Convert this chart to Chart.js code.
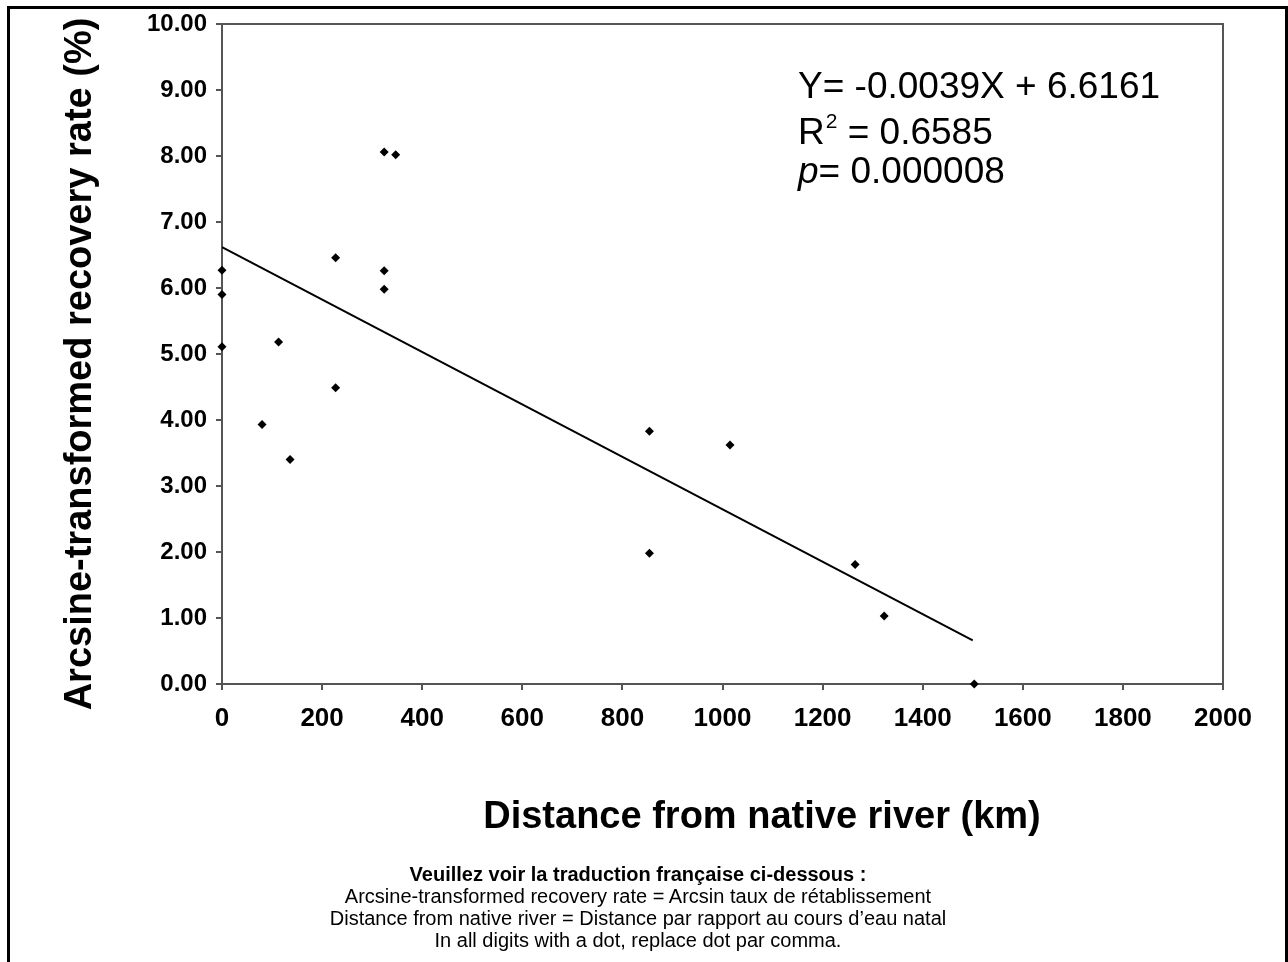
<!DOCTYPE html>
<html>
<head>
<meta charset="utf-8">
<script src="https://cdn.jsdelivr.net/npm/chart.js@4/dist/chart.umd.min.js"></script>
<style>
  body { margin: 0; background: #fff; }
  #wrap { position: relative; width: 1288px; height: 962px; }
  #notes {
    position: absolute; left: 0; width: 1276px; top: 863px;
    text-align: center; font-family: "Liberation Sans", Arial, sans-serif;
    font-size: 20px; line-height: 22px; color: #000;
  }
  #notes b { font-weight: bold; }
</style>
</head>
<body>
<div id="wrap">
  <canvas id="chart" width="1288" height="962"></canvas>
  <div id="notes">
    <b>Veuillez voir la traduction française ci-dessous :</b><br>
    Arcsine-transformed recovery rate = Arcsin taux de rétablissement<br>
    Distance from native river = Distance par rapport au cours d’eau natal<br>
    In all digits with a dot, replace dot par comma.
  </div>
</div>
<script>
// 値は図から読み取ったもの
const distanceKm   = [0, 0, 0, 80, 113, 136, 227, 227, 324, 324, 324, 347, 854, 854, 1015, 1265, 1323, 1503];
const recoveryRate = [6.27, 5.90, 5.11, 3.93, 5.18, 3.40, 6.46, 4.49, 8.06, 6.26, 5.98, 8.02, 3.83, 1.98, 3.62, 1.81, 1.03, 0.00];

// 回帰直線の両端
const trendX = [0, 1500];
const trendY = [6.62, 0.66];

// 軸の目盛り
const xMin = 0, xMax = 2000, xStep = 200;
const yMin = 0, yMax = 10, yStep = 1;

const equationLines = ["Y= -0.0039X + 6.6161", "0.6585", "0.000008"];
const xTitle = "Distance from native river (km)";
const yTitle = "Arcsine-transformed recovery rate (%)";

const FONT = '"Liberation Sans", Arial, sans-serif';
const AXIS_COLOR = '#555';

const points = distanceKm.map((x, i) => ({ x: x, y: recoveryRate[i] }));
const trend = trendX.map((x, i) => ({ x: x, y: trendY[i] }));

// 枠・式・軸タイトルを描くプラグイン
const extrasPlugin = {
    id: 'extras',
    beforeDatasetsDraw(chart) {
        const { ctx, chartArea: a } = chart;
        ctx.save();
        ctx.strokeStyle = AXIS_COLOR;
        ctx.lineWidth = 2;
        ctx.beginPath();
        ctx.moveTo(a.left, a.top);
        ctx.lineTo(a.right, a.top);
        ctx.lineTo(a.right, a.bottom);
        ctx.stroke();
        ctx.restore();
    },
    afterDraw(chart) {
        const ctx = chart.ctx;
        ctx.save();

        // 外枠
        ctx.strokeStyle = '#000';
        ctx.lineWidth = 3;
        ctx.beginPath();
        ctx.moveTo(8.5, 962);
        ctx.lineTo(8.5, 7.5);
        ctx.lineTo(1286.5, 7.5);
        ctx.lineTo(1286.5, 962);
        ctx.stroke();

        // 回帰式
        ctx.fillStyle = '#000';
        ctx.textBaseline = 'alphabetic';
        ctx.textAlign = 'left';
        const ex = 798;
        ctx.font = '37px ' + FONT;
        ctx.fillText(equationLines[0], ex, 98);

        ctx.fillText('R', ex, 144);
        let w = ctx.measureText('R').width;
        ctx.font = '21px ' + FONT;
        ctx.fillText('2', ex + w + 1, 128);
        w += ctx.measureText('2').width + 1;
        ctx.font = '37px ' + FONT;
        ctx.fillText(' = ' + equationLines[1], ex + w, 144);

        ctx.font = 'italic 37px ' + FONT;
        ctx.fillText('p', ex, 183);
        w = ctx.measureText('p').width;
        ctx.font = '37px ' + FONT;
        ctx.fillText('= ' + equationLines[2], ex + w, 183);

        // x軸タイトル
        ctx.font = 'bold 38px ' + FONT;
        ctx.textAlign = 'center';
        ctx.textBaseline = 'middle';
        ctx.fillText(xTitle, 762, 818);

        // y軸タイトル
        ctx.translate(81, 364);
        ctx.rotate(-Math.PI / 2);
        ctx.fillText(yTitle, 0, 0);

        ctx.restore();
    }
};

new Chart(document.getElementById('chart'), {
    type: 'scatter',
    data: {
        datasets: [{
            label: 'data',
            data: points,
            pointStyle: 'rectRot',
            pointRadius: 4.5,
            pointHoverRadius: 4.5,
            backgroundColor: '#000',
            borderColor: '#000',
            borderWidth: 0,
            clip: false,
        }, {
            type: 'line',
            label: 'trend',
            data: trend,
            borderColor: '#000',
            borderWidth: 2,
            pointRadius: 0,
            fill: false,
        }]
    },
    options: {
        responsive: false,
        animation: false,
        layout: { padding: { left: 0, top: 24, right: 65, bottom: 0 } },
        plugins: {
            legend: { display: false },
            tooltip: { enabled: false },
        },
        scales: {
            x: {
                type: 'linear',
                min: xMin,
                max: xMax,
                afterFit: scale => { scale.height = 278; },
                ticks: {
                    stepSize: xStep,
                    padding: 13,
                    color: '#000',
                    font: { family: FONT, size: 26, weight: 'bold' },
                    maxRotation: 0,
                    callback: v => String(v),
                },
                grid: { drawOnChartArea: false, drawTicks: true, tickLength: 6, color: AXIS_COLOR, lineWidth: 2 },
                border: { color: AXIS_COLOR, width: 2 },
            },
            y: {
                type: 'linear',
                min: yMin,
                max: yMax,
                afterFit: scale => { scale.width = 222; },
                ticks: {
                    stepSize: yStep,
                    padding: 9,
                    color: '#000',
                    font: { family: FONT, size: 24, weight: 'bold' },
                    callback: v => v.toFixed(2),
                },
                grid: { drawOnChartArea: false, drawTicks: true, tickLength: 6, color: AXIS_COLOR, lineWidth: 2 },
                border: { color: AXIS_COLOR, width: 2 },
            },
        },
    },
    plugins: [extrasPlugin],
});
</script>
</body>
</html>
